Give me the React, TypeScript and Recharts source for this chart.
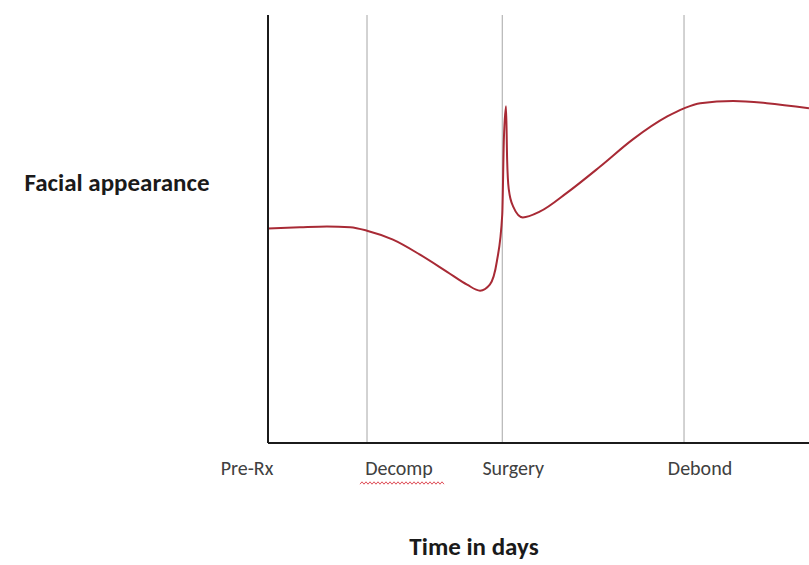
import React from 'react';
import { LineChart, Line, XAxis, YAxis, ReferenceLine } from 'recharts';

// Time axis (arbitrary "days" scale, 0..100) and facial appearance score (0..100)
const days = [0, 5.9, 10.9, 15.2, 18.3, 23.1, 28.1, 33.1, 36.8, 39.2, 41.0, 42.3, 43.3, 43.6, 44.0, 44.2, 44.5, 45.3, 47.1, 50.3, 55.3, 61.4, 67.5, 73.8, 76.9, 79.9, 86.0, 92.2, 100];
const appearance = [50.1, 50.4, 50.6, 50.4, 49.6, 47.5, 44.0, 40.0, 37.0, 35.6, 37.0, 42.4, 53.4, 71.0, 78.7, 66.3, 59.3, 55.3, 52.7, 54.1, 58.5, 64.6, 71.0, 76.3, 78.2, 79.4, 79.9, 79.4, 78.2];

const eventDays = [0, 18.3, 43.3, 76.9];
const eventLabels = ['Pre-Rx', 'Decomp', 'Surgery', 'Debond'];

const yTitle = 'Facial appearance';
const xTitle = 'Time in days';

const data = days.map((d, i) => ({ day: d, value: appearance[i] }));

const FONT = 'Carlito, Calibri, Lato, sans-serif';
const labelShift: Record<string, number> = { 'Pre-Rx': -21, Decomp: 32, Surgery: 11, Debond: 16 };

const Tick = (props: any) => {
  const { x, payload } = props;
  const idx = eventDays.indexOf(payload.value);
  const label = idx >= 0 ? eventLabels[idx] : '';
  const cx = x + (labelShift[label] || 0);
  let squiggle = null;
  if (label === 'Decomp') {
    const pts: string[] = [];
    const x0 = cx - 39;
    for (let k = 0; k <= 42; k++) {
      pts.push(`${x0 + k * 2},${483 + (k % 2 === 0 ? 1.2 : -1.2)}`);
    }
    squiggle = <polyline points={pts.join(' ')} fill="none" stroke="#e0505a" strokeWidth={1} />;
  }
  return (
    <g>
      <text x={cx} y={475} textAnchor="middle" fontFamily={FONT} fontSize={20} fill="#404040">
        {label}
      </text>
      {squiggle}
    </g>
  );
};

const YTitle = () => (
  <text x={117} y={191} textAnchor="middle" fontFamily={FONT} fontSize={25} fontWeight="bold" fill="#1a1a1a">
    {yTitle}
  </text>
);

const XTitle = () => (
  <text x={474} y={555} textAnchor="middle" fontFamily={FONT} fontSize={25} fontWeight="bold" fill="#1a1a1a">
    {xTitle}
  </text>
);

export default function App() {
  return (
    <div style={{ position: 'absolute', left: 0, top: 0, width: 809, height: 565, background: '#fff' }}>
      <LineChart width={809} height={565} data={data} margin={{ top: 15, right: 0, bottom: 0, left: 208 }}>
        <XAxis
          dataKey="day"
          type="number"
          domain={[0, 100]}
          ticks={eventDays}
          interval={0}
          height={122}
          tickLine={false}
          axisLine={{ stroke: '#1b1b1b', strokeWidth: 2 }}
          tick={<Tick />}
          label={<XTitle />}
        />
        <YAxis
          type="number"
          domain={[0, 100]}
          width={60}
          tick={false}
          tickLine={false}
          axisLine={{ stroke: '#1b1b1b', strokeWidth: 2 }}
          label={<YTitle />}
        />
        {eventDays.slice(1).map((d) => (
          <ReferenceLine key={d} x={d} stroke="#a6a6a6" strokeWidth={1} ifOverflow="visible" />
        ))}
        <Line
          type="monotone"
          dataKey="value"
          stroke="#a82a35"
          strokeWidth={2}
          dot={false}
          activeDot={false}
          isAnimationActive={false}
        />
      </LineChart>
    </div>
  );
}
